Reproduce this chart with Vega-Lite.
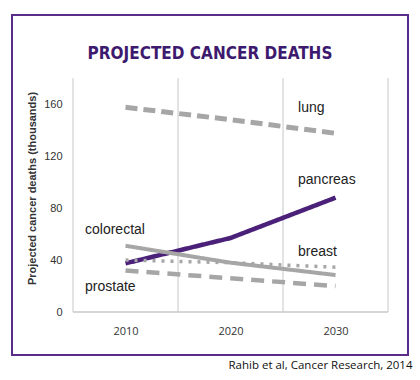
{
  "$schema": "https://vega.github.io/schema/vega-lite/v6.json",
  "width": 396,
  "height": 340,
  "padding": {"left": 12, "top": 15, "right": 12, "bottom": 25},
  "autosize": {"type": "none"},
  "background": "white",
  "config": {
    "view": {"stroke": "#5b2d8a", "strokeWidth": 2},
    "text": {"font": "Liberation Sans", "fontSize": 14, "fill": "#222222"}
  },
  "title": {
    "text": "PROJECTED CANCER DEATHS",
    "font": "DejaVu Sans Condensed, sans-serif",
    "fontSize": 17,
    "fontWeight": "bold",
    "color": "#3d1a6e",
    "anchor": "middle",
    "baseline": "alphabetic",
    "offset": -61
  },
  "datasets": {
    "deaths": [
      {"series": "lung", "year": 2010, "value": 157.5},
      {"series": "lung", "year": 2020, "value": 148},
      {"series": "lung", "year": 2030, "value": 137.5},
      {"series": "pancreas", "year": 2010, "value": 37.5},
      {"series": "pancreas", "year": 2020, "value": 57},
      {"series": "pancreas", "year": 2030, "value": 88},
      {"series": "colorectal", "year": 2010, "value": 51},
      {"series": "colorectal", "year": 2020, "value": 38},
      {"series": "colorectal", "year": 2030, "value": 28.5},
      {"series": "breast", "year": 2010, "value": 40},
      {"series": "breast", "year": 2020, "value": 38},
      {"series": "breast", "year": 2030, "value": 34.5},
      {"series": "prostate", "year": 2010, "value": 32},
      {"series": "prostate", "year": 2020, "value": 26},
      {"series": "prostate", "year": 2030, "value": 20}
    ],
    "grid": [
      {"year": 2005, "low": 0, "high": 180},
      {"year": 2015, "low": 0, "high": 180},
      {"year": 2025, "low": 0, "high": 180},
      {"year": 2035, "low": 0, "high": 180}
    ],
    "base": [
      {"start": 2005, "end": 2035, "value": 0}
    ]
  },
  "layer": [
    {
      "data": {"name": "grid"},
      "mark": {"type": "rule", "color": "#c8c8c8", "strokeWidth": 1},
      "encoding": {
        "x": {
          "field": "year", "type": "quantitative",
          "scale": {"domain": [1999.19, 2036.9], "nice": false, "zero": false},
          "axis": {
            "orient": "bottom", "offset": -43, "values": [2010, 2020, 2030], "format": "d",
            "domain": false, "ticks": false, "grid": false,
            "labelPadding": 13, "labelFont": "Open Sans", "labelFontSize": 11, "labelColor": "#333333",
            "title": "Rahib et al, Cancer Research, 2014",
            "titleFont": "Open Sans", "titleFontSize": 11.5, "titleFontWeight": "normal", "titleColor": "#111111",
            "titleX": 400, "titleY": 53, "titleAlign": "right", "titleAnchor": "end", "titleBaseline": "middle"
          }
        },
        "y": {
          "field": "low", "type": "quantitative",
          "scale": {"domain": [-33, 228.5], "nice": false, "zero": false},
          "axis": {
            "orient": "left", "offset": -61, "values": [0, 40, 80, 120, 160],
            "domain": false, "ticks": false, "grid": false,
            "labelPadding": 11, "labelFont": "Liberation Sans", "labelFontSize": 11, "labelColor": "#333333",
            "title": "Projected cancer deaths (thousands)",
            "titleFont": "Liberation Sans", "titleFontSize": 11, "titleFontWeight": "bold", "titleColor": "#333333",
            "titleX": -41, "titleY": 173, "titleAngle": -90, "titleAlign": "center", "titleBaseline": "middle"
          }
        },
        "y2": {"field": "high"}
      }
    },
    {
      "data": {"name": "base"},
      "mark": {"type": "rule", "color": "#c8c8c8", "strokeWidth": 1.5},
      "encoding": {
        "x": {"field": "start", "type": "quantitative"},
        "x2": {"field": "end"},
        "y": {"field": "value", "type": "quantitative"}
      }
    },
    {
      "data": {"name": "deaths"},
      "mark": {"type": "line", "strokeCap": "butt"},
      "encoding": {
        "x": {"field": "year", "type": "quantitative"},
        "y": {"field": "value", "type": "quantitative"},
        "detail": {"field": "series"},
        "color": {
          "field": "series", "type": "nominal", "legend": null,
          "scale": {"domain": ["lung", "pancreas", "colorectal", "breast", "prostate"],
                    "range": ["#a6a6a6", "#4a2079", "#a6a6a6", "#a6a6a6", "#a6a6a6"]}
        },
        "strokeDash": {
          "field": "series", "type": "nominal", "legend": null,
          "scale": {"domain": ["lung", "pancreas", "colorectal", "breast", "prostate"],
                    "range": [[12, 6], [1, 0], [1, 0], [3, 6], [13, 8]]}
        },
        "strokeWidth": {
          "field": "series", "type": "nominal", "legend": null,
          "scale": {"type": "ordinal", "domain": ["lung", "pancreas", "colorectal", "breast", "prostate"],
                    "range": [5, 4.5, 4, 3.5, 4.5]}
        },
        "order": {"field": "year"}
      }
    },
    {
      "data": {"name": "deaths"},
      "transform": [{"filter": "datum.series == 'lung' && datum.year == 2030"}],
      "mark": {"type": "text", "align": "left", "baseline": "middle", "dx": -37.5, "dy": -25},
      "encoding": {
        "x": {"field": "year", "type": "quantitative"},
        "y": {"field": "value", "type": "quantitative"},
        "text": {"field": "series"}
      }
    },
    {
      "data": {"name": "deaths"},
      "transform": [{"filter": "datum.series == 'pancreas' && datum.year == 2030"}],
      "mark": {"type": "text", "align": "left", "baseline": "middle", "dx": -37.5, "dy": -18},
      "encoding": {
        "x": {"field": "year", "type": "quantitative"},
        "y": {"field": "value", "type": "quantitative"},
        "text": {"field": "series"}
      }
    },
    {
      "data": {"name": "deaths"},
      "transform": [{"filter": "datum.series == 'breast' && datum.year == 2030"}],
      "mark": {"type": "text", "align": "left", "baseline": "middle", "dx": -37.5, "dy": -15},
      "encoding": {
        "x": {"field": "year", "type": "quantitative"},
        "y": {"field": "value", "type": "quantitative"},
        "text": {"field": "series"}
      }
    },
    {
      "data": {"name": "deaths"},
      "transform": [{"filter": "datum.series == 'colorectal' && datum.year == 2010"}],
      "mark": {"type": "text", "align": "left", "baseline": "middle", "dx": -40.5, "dy": -16},
      "encoding": {
        "x": {"field": "year", "type": "quantitative"},
        "y": {"field": "value", "type": "quantitative"},
        "text": {"field": "series"}
      }
    },
    {
      "data": {"name": "deaths"},
      "transform": [{"filter": "datum.series == 'prostate' && datum.year == 2010"}],
      "mark": {"type": "text", "align": "left", "baseline": "middle", "dx": -40.5, "dy": 17},
      "encoding": {
        "x": {"field": "year", "type": "quantitative"},
        "y": {"field": "value", "type": "quantitative"},
        "text": {"field": "series"}
      }
    }
  ]
}
